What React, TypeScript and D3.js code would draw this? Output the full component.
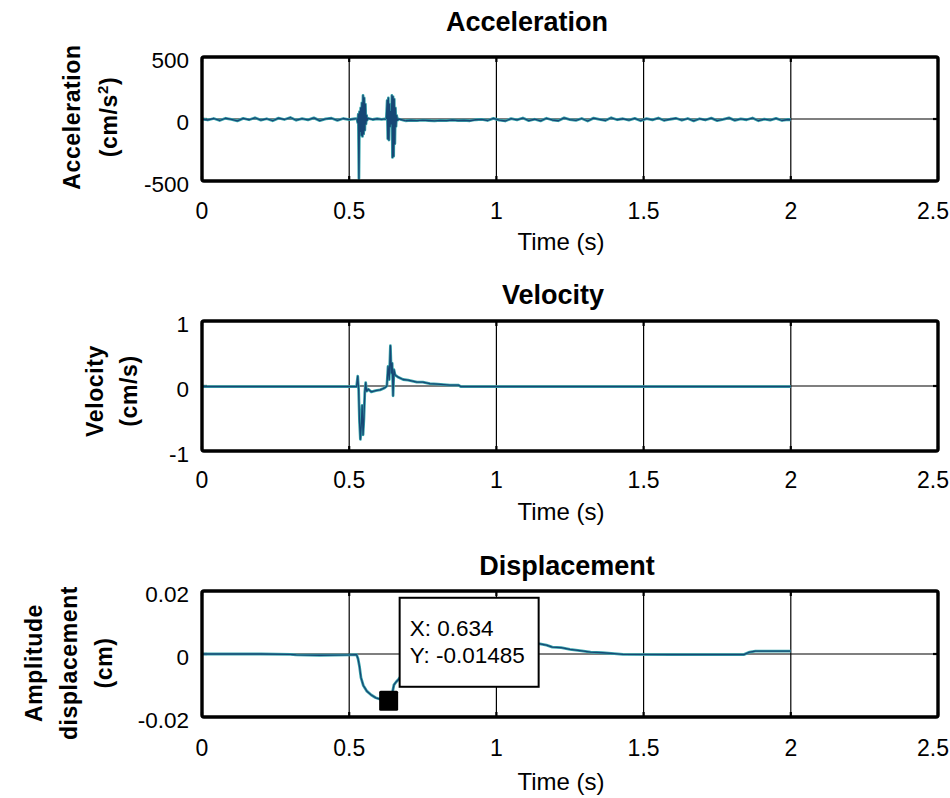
import React from "react";
import * as d3 from "d3";

// ---------- data ----------
const X_TICKS = [0, 0.5, 1, 1.5, 2, 2.5];
const X_TICK_LABELS = ["0", "0.5", "1", "1.5", "2", "2.5"];
const ACC_TICKS = [-500, 0, 500];
const ACC_TICK_LABELS = ["-500", "0", "500"];
const VEL_TICKS = [-1, 0, 1];
const VEL_TICK_LABELS = ["-1", "0", "1"];
const DIS_TICKS = [-0.02, 0, 0.02];
const DIS_TICK_LABELS = ["-0.02", "0", "0.02"];

// acceleration (cm/s^2): [time, value]
const ACC_BEFORE: [number, number][] = [
  [0, 0], [0.02, -8], [0.04, 4], [0.06, -12], [0.08, 6], [0.1, -3], [0.12, -15], [0.14, 5],
  [0.16, -6], [0.18, 10], [0.2, -9], [0.22, 2], [0.24, -14], [0.26, 7], [0.28, -4], [0.3, 12],
  [0.32, -10], [0.34, 3], [0.36, -7], [0.38, 9], [0.4, -13], [0.42, 1], [0.44, 6], [0.46, -11],
  [0.48, 4], [0.5, -5], [0.52, 2],
];
const ACC_BURST1: [number, number][] = [
  [0.526, 5], [0.529, -30], [0.531, 40], [0.533, -480], [0.535, 60], [0.537, -100], [0.539, 90],
  [0.541, -130], [0.543, 130], [0.545, -140], [0.547, 190], [0.549, -120], [0.551, 170],
  [0.553, -90], [0.555, 120], [0.557, -40], [0.559, 30], [0.561, -10], [0.564, 5],
  [0.58, -4], [0.595, 2], [0.61, -3], [0.622, 1],
];
const ACC_BURST2: [number, number][] = [
  [0.626, 0], [0.629, 150], [0.631, -160], [0.633, 170], [0.635, -170], [0.637, 120],
  [0.639, -60], [0.641, 60], [0.643, -40], [0.645, 190], [0.647, -310], [0.649, 180],
  [0.651, -300], [0.653, 160], [0.655, -200], [0.657, 90], [0.659, -60], [0.661, 30],
  [0.664, -10], [0.668, 0],
];
const ACC_AFTER: [number, number][] = [
  [0.69, -14], [0.71, -10], [0.73, -13], [0.75, -9], [0.77, -12], [0.79, -15], [0.81, -11],
  [0.83, -13], [0.85, -8], [0.87, -12], [0.89, -10], [0.91, -14], [0.93, -6], [0.95, -3],
  [0.97, -12], [0.99, 5], [1.01, -9], [1.03, -16], [1.05, 3], [1.07, -7], [1.09, 8], [1.11, -13],
  [1.13, -2], [1.15, -15], [1.17, 6], [1.19, -8], [1.21, -14], [1.23, 9], [1.25, -5], [1.27, -11],
  [1.29, 4], [1.31, -16], [1.33, 7], [1.35, -3], [1.37, -12], [1.39, 10], [1.41, -6], [1.43, 2],
  [1.45, -9], [1.47, 5], [1.49, -14], [1.51, 3], [1.53, -7], [1.55, 8], [1.57, -12], [1.59, -2],
  [1.61, 6], [1.63, -10], [1.65, 4], [1.67, -15], [1.69, 2], [1.71, -8], [1.73, 7], [1.75, -13],
  [1.77, -3], [1.79, 9], [1.81, -11], [1.83, 1], [1.85, -6], [1.87, 8], [1.89, -14], [1.91, -1],
  [1.93, -9], [1.95, 5], [1.97, -12], [1.99, -4], [2.0, -6],
];

// velocity (cm/s)
const VEL: [number, number][] = [
  [0, -0.01], [0.3, -0.01], [0.525, -0.01], [0.529, 0.15], [0.532, -0.05], [0.535, -0.55],
  [0.538, -0.82], [0.541, -0.6], [0.544, -0.3], [0.547, -0.75], [0.55, -0.5], [0.553, -0.1],
  [0.556, 0.05], [0.559, -0.08], [0.565, -0.05], [0.575, -0.09], [0.59, -0.07], [0.605, -0.06],
  [0.62, -0.03], [0.628, 0.0], [0.632, 0.3], [0.636, 0.1], [0.64, 0.62], [0.643, 0.2],
  [0.646, 0.35], [0.649, -0.15], [0.652, 0.25], [0.656, 0.17], [0.665, 0.14], [0.683, 0.1],
  [0.7, 0.09], [0.73, 0.06], [0.75, 0.06], [0.774, 0.035], [0.8, 0.03], [0.842, 0.015],
  [0.87, 0.015], [0.88, -0.01], [1.5, -0.01], [2.0, -0.01],
];

// displacement (cm)
const DIS: [number, number][] = [
  [0, 0], [0.1, 0], [0.2, 0], [0.3, -0.0001], [0.32, -0.0003], [0.4, -0.0004], [0.5, -0.0003],
  [0.525, -0.0002], [0.53, -0.0015], [0.535, -0.004], [0.54, -0.0075], [0.548, -0.01],
  [0.56, -0.0118], [0.575, -0.013], [0.59, -0.0139], [0.61, -0.0145], [0.634, -0.01485],
  [0.645, -0.013], [0.652, -0.0098], [0.66, -0.0088], [0.668, -0.008], [0.7, -0.004],
  [0.8, 0.001], [0.9, 0.003], [1.0, 0.0035], [1.1, 0.0035], [1.148, 0.0032], [1.17, 0.0028],
  [1.19, 0.0022], [1.22, 0.002], [1.25, 0.0015], [1.29, 0.001], [1.32, 0.0006], [1.36, 0.0004],
  [1.4, 0.0001], [1.43, -0.0001], [1.6, -0.0002], [1.84, -0.0002], [1.86, 0.0006],
  [1.88, 0.0009], [1.95, 0.0009], [2.0, 0.0009],
];

const MARK_X = 0.634;
const MARK_Y = -0.01485;
const TIP_LINES = ["X: 0.634", "Y: -0.01485"];

// ---------- layout ----------
const W = 950;
const H = 798;
const LEFT = 202;
const RIGHT = 938;
const FONT = "'Liberation Sans', Arial, Helvetica, sans-serif";

const x = d3.scaleLinear().domain([0, 2.5]).range([LEFT, RIGHT]);

type PanelProps = {
  title: string;
  titleX: number;
  titleY: number;
  top: number;
  bottom: number;
  domain: [number, number];
  ticks: number[];
  tickLabels: string[];
  series: [number, number][][];
  labelLines: { text: React.ReactNode; x: number }[];
  labelShift: number;
  xTickY: number;
  xLabelY: number;
};

function Panel(p: PanelProps) {
  const y = d3.scaleLinear().domain(p.domain).range([p.bottom, p.top]);
  const line = d3
    .line<[number, number]>()
    .x((d) => x(d[0]))
    .y((d) => y(d[1]))
    .curve(d3.curveLinear);
  const midY = (p.top + p.bottom) / 2;
  return (
    <g>
      <text x={p.titleX} y={p.titleY} textAnchor="middle" fontFamily={FONT} fontWeight="bold" fontSize={27}>
        {p.title}
      </text>
      {/* grid */}
      {X_TICKS.slice(1, -1).map((t) => (
        <line key={"g" + t} x1={x(t)} x2={x(t)} y1={p.top} y2={p.bottom} stroke="#000" strokeWidth={1.2} />
      ))}
      <line x1={LEFT} x2={RIGHT} y1={y(0)} y2={y(0)} stroke="#000" strokeWidth={1.2} />
      {/* tick marks */}
      {X_TICKS.map((t) => (
        <g key={"tm" + t}>
          <line x1={x(t)} x2={x(t)} y1={p.top} y2={p.top + 5} stroke="#000" strokeWidth={2.2} />
          <line x1={x(t)} x2={x(t)} y1={p.bottom} y2={p.bottom - 5} stroke="#000" strokeWidth={2.2} />
        </g>
      ))}
      <line x1={LEFT} x2={LEFT + 5} y1={y(0)} y2={y(0)} stroke="#000" strokeWidth={2.2} />
      <line x1={RIGHT} x2={RIGHT - 5} y1={y(0)} y2={y(0)} stroke="#000" strokeWidth={2.2} />
      {/* data */}
      {p.series.map((s, i) => (
        <g key={"s" + i}>
          <path d={line(s) || ""} fill="none" stroke="#3aa7ad" strokeWidth={2.8} strokeLinejoin="round" />
          <path d={line(s) || ""} fill="none" stroke="#0f2f66" strokeWidth={1.3} strokeOpacity={0.8} strokeLinejoin="round" />
        </g>
      ))}
      {/* frame */}
      <rect x={LEFT} y={p.top} width={RIGHT - LEFT} height={p.bottom - p.top} fill="none" stroke="#000" strokeWidth={3.4} rx={2} />
      {/* y tick labels */}
      {p.ticks.map((t, i) => (
        <text key={"yt" + t} x={189} y={y(t) + 3} textAnchor="end" dominantBaseline="central" fontFamily={FONT} fontSize={22.5}>
          {p.tickLabels[i]}
        </text>
      ))}
      {/* x tick labels */}
      {X_TICKS.map((t, i) => {
        const last = i === X_TICKS.length - 1;
        return (
          <text
            key={"xt" + t}
            x={last ? 949 : x(t)}
            y={p.xTickY}
            textAnchor={last ? "end" : "middle"}
            fontFamily={FONT}
            fontSize={23}
          >
            {X_TICK_LABELS[i]}
          </text>
        );
      })}
      <text x={561} y={p.xLabelY} textAnchor="middle" fontFamily={FONT} fontSize={24}>
        Time (s)
      </text>
      {/* y axis labels */}
      {p.labelLines.map((l, i) => (
        <text
          key={"yl" + i}
          transform={`translate(${l.x},${midY + p.labelShift}) rotate(-90)`}
          textAnchor="middle"
          fontFamily={FONT}
          fontWeight="bold"
          fontSize={23}
          letterSpacing={0.6}
        >
          {l.text}
        </text>
      ))}
    </g>
  );
}

export default function App() {
  const yDis = d3.scaleLinear().domain([-0.02, 0.02]).range([717, 591]);
  const mx = x(MARK_X);
  const my = yDis(MARK_Y);
  const tipLeft = mx + 11;
  const tipTop = my - 103;
  return (
    <svg
      width={W}
      height={H}
      viewBox={`0 0 ${W} ${H}`}
      style={{ position: "absolute", left: 0, top: 0, display: "block", background: "#fff" }}
    >
      <rect x={0} y={0} width={W} height={H} fill="#fff" />
      <Panel
        title="Acceleration"
        titleX={527}
        titleY={31}
        top={57}
        bottom={181}
        domain={[-500, 500]}
        ticks={ACC_TICKS}
        tickLabels={ACC_TICK_LABELS}
        series={[ACC_BEFORE, ACC_BURST1, ACC_BURST2, ACC_AFTER].map((s, i, arr) =>
          i < arr.length - 1 ? [...s, arr[i + 1][0]] : s
        )}
        labelLines={[
          { text: "Acceleration", x: 80 },
          {
            text: (
              <>
                (cm/s
                <tspan fontSize={15} dy={-9}>
                  2
                </tspan>
                <tspan dy={9}>)</tspan>
              </>
            ),
            x: 117,
          },
        ]}
        labelShift={-2}
        xTickY={219}
        xLabelY={250}
      />
      <Panel
        title="Velocity"
        titleX={553}
        titleY={304}
        top={321}
        bottom={451}
        domain={[-1, 1]}
        ticks={VEL_TICKS}
        tickLabels={VEL_TICK_LABELS}
        series={[VEL]}
        labelLines={[
          { text: "Velocity", x: 103 },
          { text: "(cm/s)", x: 137 },
        ]}
        labelShift={5}
        xTickY={488}
        xLabelY={520}
      />
      <Panel
        title="Displacement"
        titleX={567}
        titleY={575}
        top={591}
        bottom={717}
        domain={[-0.02, 0.02]}
        ticks={DIS_TICKS}
        tickLabels={DIS_TICK_LABELS}
        series={[DIS]}
        labelLines={[
          { text: "Amplitude", x: 42 },
          { text: "displacement", x: 77 },
          { text: "(cm)", x: 112 },
        ]}
        labelShift={9}
        xTickY={756}
        xLabelY={790}
      />
      {/* data tip */}
      <rect x={mx - 9.5} y={my - 10} width={19} height={20} fill="#000" rx={1.5} />
      <rect x={tipLeft} y={tipTop} width={139} height={89} fill="#fff" stroke="#000" strokeWidth={2} />
      {TIP_LINES.map((s, i) => (
        <text key={s} x={tipLeft + 10} y={tipTop + 38 + i * 27} fontFamily={FONT} fontSize={22.5}>
          {s}
        </text>
      ))}
    </svg>
  );
}
